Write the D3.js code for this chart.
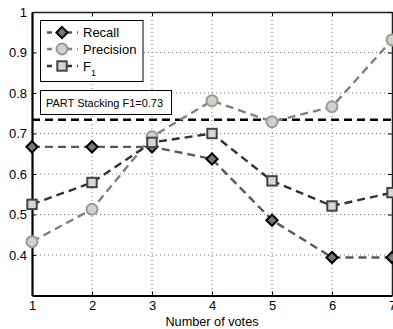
<!DOCTYPE html>
<html><head><meta charset="utf-8">
<script src="https://cdn.jsdelivr.net/npm/d3@7"></script>
<style>body{margin:0;background:#fff;}svg{display:block;font-family:"Liberation Sans",Arial,sans-serif;}</style>
</head><body>
<svg id="c" width="393" height="329"></svg>
<script>
const votes = [1,2,3,4,5,6,7];
const recall = [0.667,0.667,0.667,0.637,0.486,0.394,0.394];
const precision = [0.433,0.513,0.692,0.781,0.729,0.766,0.931];
const f1 = [0.525,0.579,0.678,0.700,0.583,0.521,0.554];
const baselineF1 = 0.734;
const baselineLabel = "PART Stacking F1=0.73";
const yTicks = [0.4,0.5,0.6,0.7,0.8,0.9,1.0];
const xLabel = "Number of votes";

const svg = d3.select("#c");
const L=32,R=392,T=12,B=295.5;
const x = d3.scaleLinear().domain([1,7]).range([L,R]);
const y = d3.scaleLinear().domain([0.3,1]).range([B,T]);

// grid
const g = svg.append("g");
g.selectAll(".gx").data(votes.slice(1,-1)).join("line")
  .attr("x1",d=>x(d)).attr("x2",d=>x(d)).attr("y1",T).attr("y2",B)
  .attr("stroke","#777").attr("stroke-width",1).attr("stroke-dasharray","1,3");
g.selectAll(".gy").data(yTicks.slice(0,-1)).join("line")
  .attr("x1",L).attr("x2",R).attr("y1",d=>y(d)).attr("y2",d=>y(d))
  .attr("stroke","#777").attr("stroke-width",1).attr("stroke-dasharray","1,3");

// axes
const ax = svg.append("g").attr("transform",`translate(0,${B})`)
  .call(d3.axisBottom(x).tickValues(votes).tickFormat(d3.format("d")).tickSizeInner(-4).tickSizeOuter(0).tickPadding(5));
const ay = svg.append("g").attr("transform",`translate(${L},0)`)
  .call(d3.axisLeft(y).tickValues(yTicks).tickFormat(d=>d===1?"1":d3.format(".1f")(d)).tickSizeInner(-4).tickSizeOuter(0).tickPadding(5));
[ax,ay].forEach(a=>{
  a.select(".domain").attr("stroke","#000").attr("stroke-width",2.2);
  a.selectAll(".tick line").attr("stroke","#000").attr("stroke-width",1);
  a.selectAll(".tick text").attr("font-size",13).attr("fill","#000").attr("font-family","Liberation Sans, Arial, sans-serif");
});
// top and right ticks / border
const at = svg.append("g").attr("transform",`translate(0,${T})`)
  .call(d3.axisTop(x).tickValues(votes).tickFormat("").tickSizeInner(-4).tickSizeOuter(0));
const ar = svg.append("g").attr("transform",`translate(${R},0)`)
  .call(d3.axisRight(y).tickValues(yTicks).tickFormat("").tickSizeInner(-4).tickSizeOuter(0));
[at,ar].forEach(a=>{
  a.select(".domain").attr("stroke","#222").attr("stroke-width",1.5);
  a.selectAll(".tick line").attr("stroke","#000");
});

svg.append("text").attr("x",(L+R)/2).attr("y",326).attr("text-anchor","middle")
  .attr("font-size",12.7).text(xLabel);

// baseline
svg.append("line").attr("x1",L).attr("x2",R).attr("y1",y(baselineF1)).attr("y2",y(baselineF1))
  .attr("stroke","#000").attr("stroke-width",2.4).attr("stroke-dasharray","8,5");

const line = d3.line().x((d,i)=>x(votes[i])).y(d=>y(d));
const series = [
  {vals:recall, lc:"#5a5a5a", shape:"diamond", fill:"#777", stroke:"#000"},
  {vals:precision, lc:"#808080", shape:"circle", fill:"#d3d0c8", stroke:"#999"},
  {vals:f1, lc:"#333", shape:"square", fill:"#d8d5cc", stroke:"#444"}
];
function marker(sel, s){
  if(s.shape==="circle") sel.append("circle").attr("r",5.5);
  else if(s.shape==="square") sel.append("rect").attr("x",-4.7).attr("y",-4.7).attr("width",9.4).attr("height",9.4);
  else sel.append("path").attr("d","M0,-5.6L5.6,0L0,5.6L-5.6,0Z");
  sel.selectAll("*").attr("fill",s.fill).attr("stroke",s.stroke).attr("stroke-width",2);
}
series.forEach(s=>{
  svg.append("path").datum(s.vals).attr("d",line).attr("fill","none")
    .attr("stroke",s.lc).attr("stroke-width",2.4).attr("stroke-dasharray","8,5");
});
series.forEach(s=>{
  s.vals.forEach((v,i)=>{
    const m = svg.append("g").attr("transform",`translate(${x(votes[i])},${y(v)})`);
    marker(m,s);
  });
});

// legend
svg.append("rect").attr("x",40.5).attr("y",20.5).attr("width",102.5).attr("height",61)
  .attr("fill","#fff").attr("stroke","#000").attr("stroke-width",1);
const names = ["Recall","Precision","F"];
const ly = [32.5,49,66];
series.forEach((s,i)=>{
  svg.append("line").attr("x1",47).attr("x2",78).attr("y1",ly[i]).attr("y2",ly[i])
    .attr("stroke",s.lc).attr("stroke-width",2.4).attr("stroke-dasharray","5,5").attr("stroke-dashoffset",0);
  const m = svg.append("g").attr("transform",`translate(62,${ly[i]})`);
  marker(m,s);
  const t = svg.append("text").attr("x",83).attr("y",ly[i]+4.5).attr("font-size",13).text(names[i]);
  if(i===2) t.append("tspan").attr("font-size",9).attr("dy",5).text("1");
});

// text box
svg.append("rect").attr("x",40.5).attr("y",90.5).attr("width",131).attr("height",24)
  .attr("fill","#fff").attr("stroke","#000").attr("stroke-width",1);
svg.append("text").attr("x",46).attr("y",106.5).attr("font-size",11).text(baselineLabel);
</script>
</body></html>
